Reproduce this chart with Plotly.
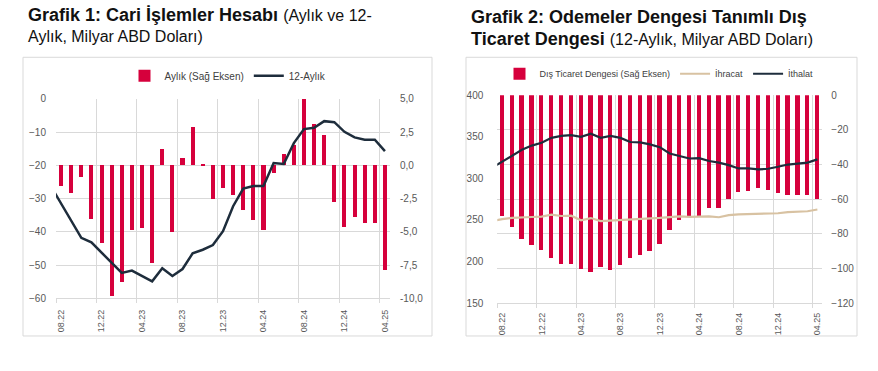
import plotly.graph_objects as go

W, H = 878, 371

# ---------------- data ----------------
# month labels (07.22 is only partly visible: lines start at the left edge)
months = ["07.22", "08.22", "09.22", "10.22", "11.22", "12.22",
          "01.23", "02.23", "03.23", "04.23", "05.23", "06.23",
          "07.23", "08.23", "09.23", "10.23", "11.23", "12.23",
          "01.24", "02.24", "03.24", "04.24", "05.24", "06.24",
          "07.24", "08.24", "09.24", "10.24", "11.24", "12.24",
          "01.25", "02.25", "03.25", "04.25"]
bar_months = months[1:]                       # 08.22 .. 04.25
tick_labels = bar_months[::4]                 # 08.22, 12.22, ... 04.25

# Grafik 1: current account (billion USD)
cari_aylik = [-1.53, -2.09, -0.85, -4.01, -5.86, -9.80, -8.76, -4.82, -4.70, -7.36,
              1.22, -4.99, 0.58, 2.92, 0.10, -2.55, -1.73, -2.26, -3.36, -4.14,
              -4.87, -0.56, 0.85, 1.56, 4.98, 3.09, 2.29, -2.75, -4.65, -3.85,
              -4.33, -4.33, -7.85]
cari_12ay = [-26.3, -31.5, -36.6, -41.8, -43.2, -46.3, -49.3, -52.4, -51.7, -53.2,
             -54.9, -51.0, -53.3, -51.2, -46.5, -45.4, -44.0, -39.8, -32.3, -27.0,
             -26.2, -26.2, -19.3, -19.6, -13.3, -9.1, -8.7, -6.7, -7.0, -9.9,
             -11.6, -12.3, -12.3, -15.7]

# Grafik 2: BoP-defined foreign trade (12-month, billion USD)
dis_ticaret = [-69.6, -76.5, -83.0, -86.8, -89.4, -93.9, -97.8, -97.8, -100.4, -102.0,
               -99.3, -101.1, -98.3, -94.0, -92.7, -89.9, -86.2, -78.0, -72.4, -70.0,
               -70.0, -65.2, -65.4, -60.0, -55.9, -55.3, -53.6, -54.6, -56.4, -57.7,
               -57.9, -57.9, -60.3]
ihracat = [248.5, 251.0, 252.5, 253.3, 253.6, 254.0, 256.3, 254.8, 255.2, 249.6,
           252.3, 248.6, 249.2, 249.5, 250.5, 251.0, 251.3, 252.5, 253.5, 254.4,
           253.7, 253.6, 254.4, 253.3, 255.8, 256.8, 257.2, 257.6, 257.9, 258.1,
           259.5, 259.9, 260.5, 262.6]
ithalat = [313.0, 320.0, 327.0, 334.5, 339.5, 343.0, 348.8, 351.2, 352.0, 350.0,
           353.9, 348.8, 351.2, 348.8, 343.8, 343.4, 341.0, 337.6, 330.0, 326.7,
           324.0, 324.4, 321.0, 319.0, 316.0, 312.0, 312.0, 310.8, 311.6, 314.0,
           316.7, 317.8, 319.0, 322.9]

y1_right_vals = [-10, -7.5, -5, -2.5, 0, 2.5, 5]
y1_right_text = ["-10,0", "-7,5", "-5,0", "-2,5", "0,0", "2,5", "5,0"]

# ---------------- styling ----------------
RED = "#D6003C"
NAVY = "#1E2D3C"
BEIGE = "#D8C2A2"
GRID = "#D9D9D9"
TXT = "#595959"
FONT = "Liberation Sans"

x_line = list(range(-1, len(months) - 1))     # index -1 for 07.22
x_bar = list(range(len(bar_months)))
bnd = [i - 0.5 for i in x_bar[::4]]           # gridlines on category boundaries


def px_x(p):
    return p / W


def px_y(p):
    return 1 - p / H


fig = go.Figure()

# ---- chart 1 ----
fig.add_trace(go.Bar(x=x_bar, y=cari_aylik, name="Aylık (Sağ Eksen)",
                     marker=dict(color=RED, line=dict(width=0)), width=0.4,
                     xaxis="x", yaxis="y", legend="legend"))
fig.add_trace(go.Scatter(x=x_line, y=cari_12ay, name="12-Aylık", mode="lines",
                         line=dict(color=NAVY, width=2.5),
                         xaxis="x", yaxis="y2", legend="legend"))

# ---- chart 2 ----
fig.add_trace(go.Bar(x=x_bar, y=dis_ticaret, name="Dış Ticaret Dengesi (Sağ Eksen)",
                     marker=dict(color=RED, line=dict(width=0)), width=0.44,
                     xaxis="x2", yaxis="y3", legend="legend2"))
fig.add_trace(go.Scatter(x=x_line, y=ihracat, name="İhracat", mode="lines",
                         line=dict(color=BEIGE, width=2.2),
                         xaxis="x2", yaxis="y4", legend="legend2"))
fig.add_trace(go.Scatter(x=x_line, y=ithalat, name="İthalat", mode="lines",
                         line=dict(color=NAVY, width=2.2),
                         xaxis="x2", yaxis="y4", legend="legend2"))

xcommon = dict(range=[-0.5, len(bar_months) - 0.5], tickmode="array",
               tickvals=bnd, ticktext=tick_labels, ticklabelshift=5,
               tickangle=-90, ticks="outside", ticklen=4, tickcolor=GRID,
               showgrid=True, gridcolor=GRID, gridwidth=1, zeroline=False,
               showline=True, linecolor=GRID, linewidth=1,
               tickfont=dict(family=FONT, size=9, color=TXT), fixedrange=True)

ycommon = dict(showgrid=False, zeroline=False, ticks="", fixedrange=True,
               tickfont=dict(family=FONT, size=10, color=TXT))

fig.update_layout(
    width=W, height=H, autosize=False,
    margin=dict(l=0, r=0, t=0, b=0),
    paper_bgcolor="white", plot_bgcolor="white",
    font=dict(family=FONT, color=TXT),
    bargap=0, showlegend=True,
    xaxis=dict(domain=[px_x(56), px_x(390)], anchor="y", ticklabelstandoff=3, **xcommon),
    yaxis=dict(domain=[px_y(302), px_y(96)], anchor="x", side="right",
               range=[-10, 5], tickmode="array", tickvals=y1_right_vals,
               ticktext=y1_right_text, ticklabelstandoff=9,
               **{**ycommon, "showgrid": True, "gridcolor": GRID}),
    yaxis2=dict(overlaying="y", anchor="x", side="left", range=[-60, 0],
                dtick=10, ticklabelstandoff=9, **ycommon),
    xaxis2=dict(domain=[px_x(497.3), px_x(822.3)], anchor="y3", ticklabelstandoff=1, **xcommon),
    yaxis3=dict(domain=[px_y(307), px_y(92.3)], anchor="x2", side="right",
                range=[-120, 0], dtick=20, ticklabelstandoff=8,
                **{**ycommon, "showgrid": True, "gridcolor": GRID}),
    yaxis4=dict(overlaying="y3", anchor="x2", side="left", range=[150, 400],
                dtick=50, ticklabelstandoff=13, **ycommon),
    legend=dict(orientation="h", x=px_x(228), xanchor="center", y=px_y(72),
                yanchor="middle", bgcolor="rgba(0,0,0,0)",
                font=dict(family=FONT, size=10, color="#404040")),
    legend2=dict(orientation="h", x=px_x(659), xanchor="center", y=px_y(70),
                 yanchor="middle", bgcolor="rgba(0,0,0,0)",
                 font=dict(family=FONT, size=9, color="#404040")),
)

# panel frames
for x0, x1 in [(23, 432), (466, 857)]:
    fig.add_shape(type="rect", xref="paper", yref="paper",
                  x0=px_x(x0), x1=px_x(x1), y0=px_y(341), y1=px_y(53),
                  line=dict(color=GRID, width=1), fillcolor="rgba(0,0,0,0)",
                  layer="below")

# titles
TCOL = "#111111"
titles = [
    (26, 9.5, "<b>Grafik 1: Cari İşlemler Hesabı</b> <span style='font-size:16px'>(Aylık ve 12-</span>"),
    (26, 32, "Aylık, Milyar ABD Doları)"),
    (469.3, 11.5, "<b>Grafik 2: Odemeler Dengesi Tanımlı Dış</b>"),
    (469.3, 34.3, "<b>Ticaret Dengesi</b> <span style='font-size:16px'>(12-Aylık, Milyar ABD Doları)</span>"),
]
for i, (xp, yp, txt) in enumerate(titles):
    fig.add_annotation(xref="paper", yref="paper", x=px_x(xp), y=px_y(yp),
                       xanchor="left", yanchor="middle", showarrow=False,
                       text=txt, align="left",
                       font=dict(family=FONT, size=16 if i == 1 else 18, color=TCOL))

fig.write_html("out.html", config={"displayModeBar": False},
               post_script="document.body.style.margin='0';document.body.style.overflow='hidden';")
